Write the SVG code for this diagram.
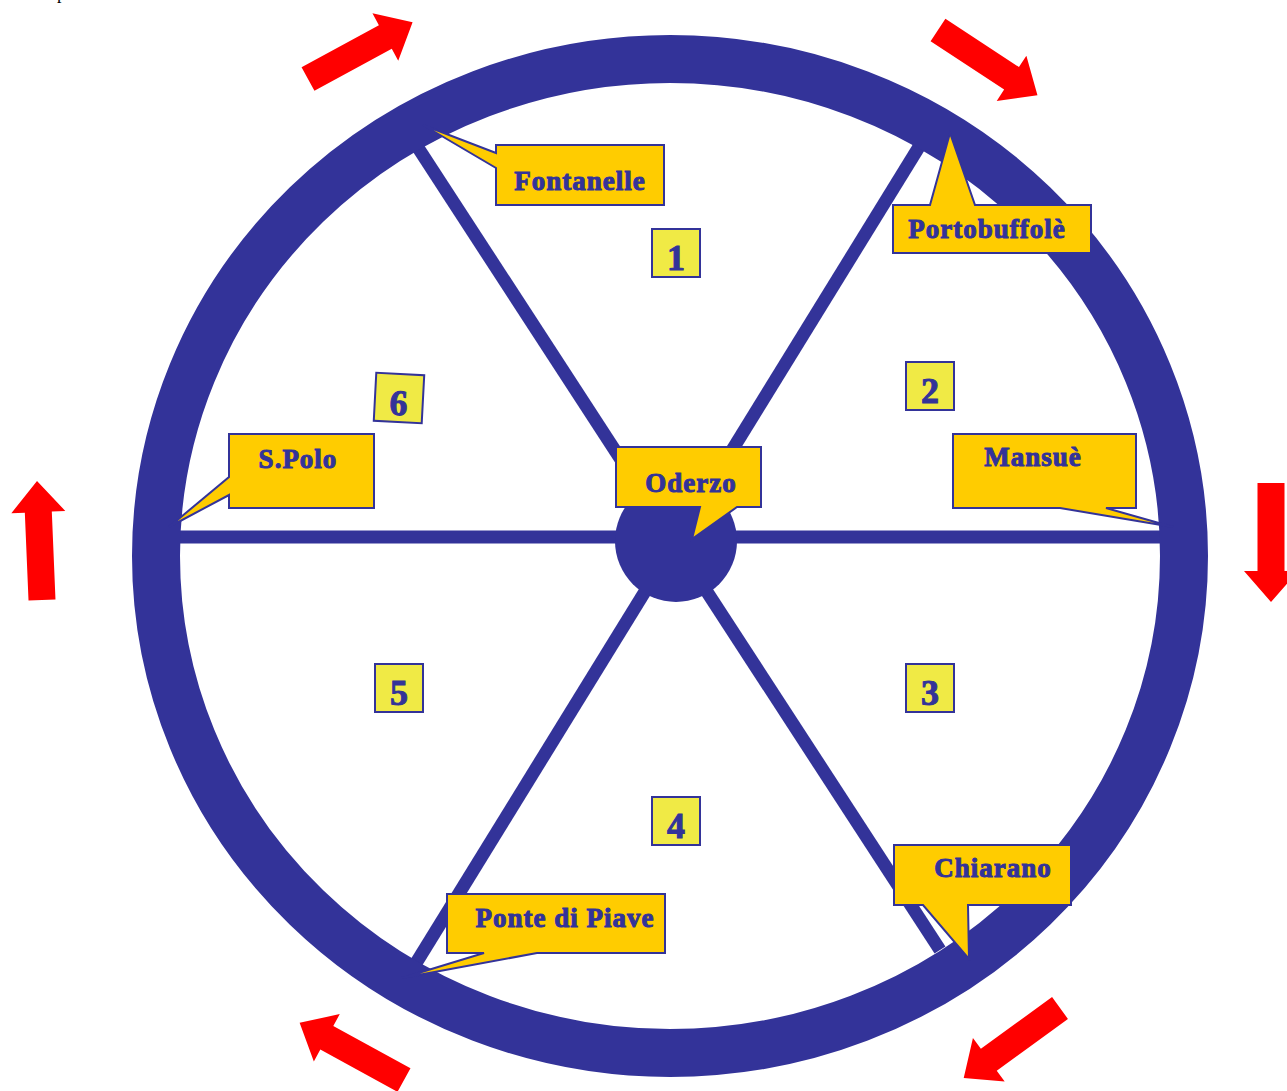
<svg xmlns="http://www.w3.org/2000/svg" width="1287" height="1091" viewBox="0 0 1287 1091">
<style>
.lbl{fill:#FFCC00;stroke:#333399;stroke-width:2;stroke-linejoin:miter}
.num{fill:#F0EA45;stroke:#333399;stroke-width:2}
.t{font-family:"Liberation Serif",serif;font-weight:bold;fill:#333399;stroke:#333399;stroke-width:1;text-anchor:middle}
.lt{font-size:27px;letter-spacing:1px}
.nt{font-size:36px}
.arr{fill:#FF0000}
.spoke{stroke:#333399;stroke-width:13;fill:none}
</style>
<defs>
<path id="arrow" d="M0,-13.5 L88,-13.5 L88,-27 L119,0 L88,27 L88,13.5 L0,13.5 Z"/>
</defs>
<rect width="1287" height="1091" fill="#FFFFFF"/>
<text x="57" y="-1" font-family="Liberation Serif,serif" font-size="18" fill="#000">p</text>
<g id="connectors">
<line class="spoke" x1="413" y1="140" x2="940" y2="950"/>
<line class="spoke" x1="922" y1="142" x2="413" y2="968"/>
<line class="spoke" x1="175" y1="537" x2="1165" y2="537"/>
</g>
<g id="wheel">
<ellipse cx="670" cy="556" rx="514" ry="497" fill="none" stroke="#333399" stroke-width="48"/>
</g>
<g id="hub"><circle cx="676" cy="541" r="61" fill="#333399"/></g>
<g id="arrows" class="arr">
<use href="#arrow" transform="translate(308,79) rotate(-28.5)"/>
<use href="#arrow" transform="translate(938,30) rotate(33.3)"/>
<use href="#arrow" transform="translate(42,600) rotate(-92.4)"/>
<use href="#arrow" transform="translate(1271,483) rotate(90)"/>
<use href="#arrow" transform="translate(404,1080) rotate(208.7)"/>
<use href="#arrow" transform="translate(1060,1008) rotate(144)"/>
</g>
<g id="n1"><rect class="num" x="652" y="229" width="48" height="48"/><text class="t nt" x="676" y="270">1</text></g>
<g id="n2"><rect class="num" x="906" y="362" width="48" height="48"/><text class="t nt" x="930" y="403">2</text></g>
<g id="n3"><rect class="num" x="906" y="664" width="48" height="48"/><text class="t nt" x="930" y="705">3</text></g>
<g id="n4"><rect class="num" x="652" y="797" width="48" height="48"/><text class="t nt" x="676" y="838">4</text></g>
<g id="n5"><rect class="num" x="375" y="664" width="48" height="48"/><text class="t nt" x="399" y="705">5</text></g>
<g id="n6" transform="rotate(3 399 398)"><rect class="num" x="375" y="374" width="48" height="48"/><text class="t nt" x="399" y="415">6</text></g>
<g id="fontanelle"><path class="lbl" d="M496,145 H664 V205 H496 V168 L423,125 L496,153 Z"/><text class="t lt" x="580" y="190">Fontanelle</text></g>
<g id="portobuffole"><path class="lbl" d="M893,205 H930 L950,133 L975,205 H1091 V253 H893 Z"/><text class="t lt" x="987" y="238">Portobuffolè</text></g>
<g id="spolo"><path class="lbl" d="M229,434 H374 V508 H229 V495 L169,527 L229,477 Z"/><text class="t lt" x="298" y="468">S.Polo</text></g>
<g id="oderzo"><path class="lbl" d="M616,447 H761 V507 H737 L692,539 L700,507 H616 Z"/><text class="t lt" x="691" y="492">Oderzo</text></g>
<g id="mansue"><path class="lbl" d="M953,434 H1136 V508 H1106 L1173,527 L1060,508 H953 Z"/><text class="t lt" x="1033" y="466">Mansuè</text></g>
<g id="ponte"><path class="lbl" d="M447,894 H665 V953 H537 L402,978 L484,953 H447 Z"/><text class="t lt" x="565" y="927">Ponte di Piave</text></g>
<g id="chiarano"><path class="lbl" d="M894,845 H1071 V905 H968 L969,959 L923,905 H894 Z"/><text class="t lt" x="993" y="877">Chiarano</text></g>
</svg>
